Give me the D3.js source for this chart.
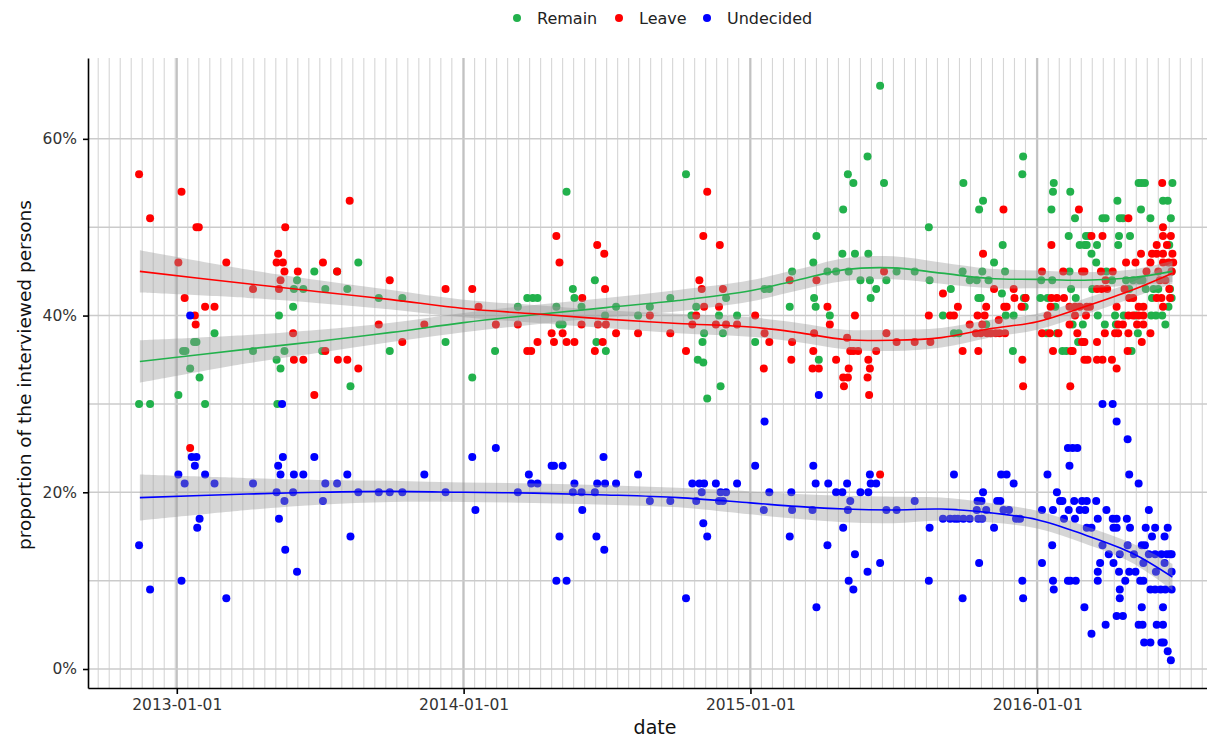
<!DOCTYPE html>
<html>
<head>
<meta charset="utf-8">
<script src="https://cdn.jsdelivr.net/npm/d3@7"></script>
<style>
  body { margin: 0; background: #fff; }
  svg { display: block; font-family: "DejaVu Sans", sans-serif; }
</style>
</head>
<body>
<svg id="chart" width="1207" height="739"></svg>
<script>
// ---- data ----
const seriesNames = ["Remain", "Leave", "Undecided"];
const seriesColors = ["#22b14c", "#ff0000", "#0000ff"];
const yTicks = [0, 20, 40, 60];
const yMinorTicks = [10, 30, 50];
const xTicks = ["2013-01-01", "2014-01-01", "2015-01-01", "2016-01-01"];

const remainPolls = [
  ["2012-11-14",30],["2012-11-28",30],["2013-01-03",31],["2013-01-09",36],["2013-01-12",36],["2013-01-18",34],
  ["2013-01-23",37],["2013-01-26",37],["2013-01-30",33],["2013-02-06",30],["2013-02-18",38],["2013-04-08",36],
  ["2013-05-08",35],["2013-05-09",30],["2013-05-11",40],["2013-05-13",34],["2013-05-18",36],["2013-05-29",41],
  ["2013-05-30",43],["2013-06-03",44],["2013-06-11",43],["2013-06-25",45],["2013-07-05",36],["2013-07-09",43],
  ["2013-07-24",45],["2013-08-06",43],["2013-08-10",32],["2013-08-20",46],["2013-09-15",42],["2013-09-29",36],
  ["2013-10-15",42],["2013-12-09",37],["2014-01-12",33],["2014-02-10",36],["2014-03-11",41],["2014-03-23",42],
  ["2014-03-30",42],["2014-04-05",42],["2014-04-29",41],["2014-05-03",39],["2014-05-07",39],["2014-05-12",54],
  ["2014-05-20",43],["2014-05-22",42],["2014-05-31",41],["2014-06-17",44],["2014-06-19",37],["2014-06-30",40],
  ["2014-07-01",36],["2014-07-14",41],["2014-08-11",40],["2014-08-26",41],["2014-09-21",42],["2014-10-11",56],
  ["2014-10-18",40],["2014-10-24",41],["2014-10-26",35],["2014-11-01",37],["2014-11-02",34.7],["2014-11-03",38],
  ["2014-11-07",30.6],["2014-11-22",40],["2014-11-24",32],["2014-11-27",38],["2014-12-01",42],["2014-12-15",40],
  ["2015-01-07",37],["2015-01-19",43],["2015-01-25",43],["2015-02-20",41],["2015-02-23",45],["2015-03-22",46],
  ["2015-03-23",42],["2015-03-25",41],["2015-03-26",49],["2015-03-29",35],["2015-04-09",45],["2015-04-12",40],
  ["2015-04-20",45],["2015-04-28",47],["2015-04-29",52],["2015-05-05",56],["2015-05-06",45],["2015-05-12",55],
  ["2015-05-14",47],["2015-05-21",44],["2015-05-30",58],["2015-05-31",47],["2015-06-02",44],["2015-06-03",42],
  ["2015-06-10",43],["2015-06-15",66],["2015-06-20",55],["2015-06-23",44],["2015-07-06",45],["2015-07-29",45],
  ["2015-08-16",50],["2015-08-17",44],["2015-09-03",40],["2015-09-13",43],["2015-09-17",38],["2015-09-23",38],
  ["2015-09-28",45],["2015-09-29",55],["2015-10-07",44],["2015-10-16",44],["2015-10-18",42],["2015-10-19",52],
  ["2015-10-21",42],["2015-10-23",45],["2015-10-24",53],["2015-10-28",39],["2015-10-31",44],["2015-11-07",46],
  ["2015-11-17",42.5],["2015-11-18",48],["2015-11-21",45],["2015-11-22",40],["2015-12-01",36],["2015-12-02",40],
  ["2015-12-13",56],["2015-12-14",58],["2015-12-15",42],["2015-12-16",41],["2015-12-17",42],
  ["2016-01-05",42],["2016-01-06",44],["2016-01-13",38],["2016-01-14",42],["2016-01-19",52],["2016-01-20",44],
  ["2016-01-21",54],["2016-01-22",55],["2016-01-24",41],["2016-01-26",38],["2016-02-02",36],["2016-02-07",36],
  ["2016-02-10",49],["2016-02-11",45],["2016-02-12",54],["2016-02-13",43],["2016-02-15",39],["2016-02-18",51],
  ["2016-02-19",42],["2016-02-22",37],["2016-02-24",48],["2016-02-28",39],["2016-02-29",37],["2016-03-01",48],
  ["2016-03-03",49],["2016-03-04",48],["2016-03-07",49],["2016-03-10",47],["2016-03-11",43],["2016-03-16",46],
  ["2016-03-17",48],["2016-03-18",40],["2016-03-24",51],["2016-03-27",39],["2016-03-28",51],["2016-03-29",45],
  ["2016-04-05",44],["2016-04-09",40],["2016-04-10",39],["2016-04-12",53],["2016-04-13",48],["2016-04-14",49],
  ["2016-04-15",51],["2016-04-19",51],["2016-04-20",40],["2016-04-23",44],["2016-04-27",43],["2016-04-28",49],
  ["2016-04-30",36],["2016-05-02",44],["2016-05-05",40],["2016-05-08",38],["2016-05-09",55],["2016-05-10",44],
  ["2016-05-12",52],["2016-05-13",55],["2016-05-14",44],["2016-05-17",55],["2016-05-18",43],["2016-05-24",51],
  ["2016-05-25",40],["2016-05-26",42],["2016-05-28",43],["2016-05-31",40],["2016-06-03",43],["2016-06-08",40],
  ["2016-06-09",53],["2016-06-12",39],["2016-06-15",53],["2016-06-16",41],["2016-06-17",48],["2016-06-18",43],
  ["2016-06-19",51],["2016-06-20",42],["2016-06-20",45],["2016-06-21",55]
];

const leavePolls = [
  ["2012-11-14",56],["2012-11-28",51],["2013-01-03",46],["2013-01-07",54],["2013-01-11",42],["2013-01-18",25],
  ["2013-01-24",40],["2013-01-25",39],["2013-01-26",50],["2013-01-29",50],["2013-02-06",41],["2013-02-18",41],
  ["2013-03-05",46],["2013-04-08",43],["2013-05-08",46],["2013-05-10",47],["2013-05-11",43],["2013-05-13",44],
  ["2013-05-16",46],["2013-05-18",45],["2013-05-19",50],["2013-05-29",38],["2013-05-30",35],["2013-06-04",45],
  ["2013-06-11",35],["2013-06-25",31],["2013-07-06",46],["2013-07-09",36],["2013-07-24",45],["2013-07-25",35],
  ["2013-08-06",35],["2013-08-09",53],["2013-08-20",34],["2013-09-15",39],["2013-09-29",44],["2013-10-15",37],
  ["2013-11-12",39],["2013-12-09",43],["2014-01-12",43],["2014-01-20",41],["2014-02-11",39],["2014-03-11",39],
  ["2014-03-23",36],["2014-03-28",36],["2014-04-05",37],["2014-04-23",38],["2014-04-26",37],["2014-04-29",49],
  ["2014-05-03",46],["2014-05-07",38],["2014-05-12",37],["2014-05-22",37],["2014-05-31",39],["2014-06-01",42],
  ["2014-06-17",36],["2014-06-20",48],["2014-06-21",39],["2014-06-27",37],["2014-06-29",47],["2014-06-30",43],
  ["2014-07-01",39],["2014-07-14",38],["2014-08-11",38],["2014-08-26",40],["2014-09-21",38],["2014-10-11",36],
  ["2014-10-19",39],["2014-10-24",40],["2014-10-28",44],["2014-10-31",43],["2014-11-02",49],["2014-11-03",41],
  ["2014-11-07",54],["2014-11-18",39],["2014-11-22",41],["2014-11-23",48],["2014-11-27",43],["2014-12-01",39],
  ["2014-12-15",39],["2015-01-07",40],["2015-01-18",34],["2015-01-19",38],["2015-01-25",37],["2015-02-20",44],
  ["2015-02-22",35],["2015-02-23",37],["2015-03-21",34],["2015-03-22",36],["2015-03-23",38],["2015-03-26",44],
  ["2015-03-29",34],["2015-04-09",41],["2015-04-12",39],["2015-04-20",35],["2015-04-29",33],["2015-04-30",32],
  ["2015-05-04",37.5],["2015-05-05",33],["2015-05-06",34],["2015-05-08",36],["2015-05-12",36],["2015-05-14",40],
  ["2015-05-18",36],["2015-05-30",33],["2015-05-31",35],["2015-06-01",31],["2015-06-02",34],["2015-06-10",36],
  ["2015-06-15",22],["2015-06-20",45],["2015-06-23",38],["2015-07-06",37],["2015-07-29",37],["2015-08-16",40],
  ["2015-08-18",37],["2015-09-03",42.5],["2015-09-12",40],["2015-09-17",40],["2015-09-22",41],["2015-09-28",36],
  ["2015-10-07",39],["2015-10-15",38],["2015-10-17",40],["2015-10-18",36],["2015-10-21",38],["2015-10-23",39],
  ["2015-10-24",47],["2015-10-26",40],["2015-10-28",41],["2015-10-29",38],["2015-11-03",38],["2015-11-07",43],
  ["2015-11-09",38],["2015-11-13",39.5],["2015-11-14",38],["2015-11-19",52],["2015-11-20",41],["2015-11-21",38],
  ["2015-11-23",41],["2015-12-02",43],["2015-12-03",42],["2015-12-12",41],["2015-12-13",35],["2015-12-14",32],
  ["2015-12-17",42],
  ["2016-01-07",45],["2016-01-07",38],["2016-01-14",40],["2016-01-17",38],["2016-01-18",41],["2016-01-19",48],
  ["2016-01-19",42],["2016-01-21",36],["2016-01-26",42],["2016-01-28",38],["2016-02-03",45],["2016-02-04",42],
  ["2016-02-11",41],["2016-02-11",39],["2016-02-12",32],["2016-02-13",36],["2016-02-15",36],["2016-02-18",41],
  ["2016-02-18",40],["2016-02-21",38],["2016-02-23",52],["2016-02-24",41],["2016-02-27",45],["2016-02-27",37],
  ["2016-03-01",45],["2016-03-01",37],["2016-03-01",35],["2016-03-03",40],["2016-03-04",41],["2016-03-05",35],
  ["2016-03-08",41],["2016-03-10",49],["2016-03-17",43],["2016-03-17",37],["2016-03-17",35],["2016-03-22",45],
  ["2016-03-23",43],["2016-03-24",49],["2016-03-24",35],["2016-03-27",38],["2016-03-28",44],["2016-03-30",43],
  ["2016-04-05",35],["2016-04-06",45],["2016-04-09",38],["2016-04-11",41],["2016-04-11",34],["2016-04-13",39],
  ["2016-04-13",38],["2016-04-19",39],["2016-04-21",43],["2016-04-23",46],["2016-04-25",36],["2016-04-26",51],
  ["2016-04-26",40],["2016-04-26",38],["2016-04-27",42],["2016-05-02",42],["2016-05-02",40],["2016-05-05",46],
  ["2016-05-07",39],["2016-05-09",41],["2016-05-09",40],["2016-05-12",47],["2016-05-13",37],["2016-05-15",41],
  ["2016-05-15",40],["2016-05-15",39],["2016-05-19",45],["2016-05-24",46],["2016-05-24",38],["2016-05-26",47],
  ["2016-06-01",48],["2016-06-01",47],["2016-06-01",42],["2016-06-03",45],["2016-06-05",44],["2016-06-07",42],
  ["2016-06-08",55],["2016-06-09",50],["2016-06-09",49],["2016-06-09",47],["2016-06-09",46],["2016-06-09",41],
  ["2016-06-12",44],["2016-06-14",48],["2016-06-16",46],["2016-06-17",43],["2016-06-18",42],["2016-06-19",49],
  ["2016-06-20",45],["2016-06-21",47],["2016-06-22",46]
];

const undecidedPolls = [
  ["2012-11-14",14],["2012-11-28",9],["2013-01-03",22],["2013-01-07",10],["2013-01-11",21],["2013-01-18",40],
  ["2013-01-20",24],["2013-01-24",23],["2013-01-26",24],["2013-01-27",16],["2013-01-30",17],["2013-02-06",22],
  ["2013-02-18",21],["2013-03-05",8],["2013-04-08",21],["2013-05-08",20],["2013-05-10",23],["2013-05-11",17],
  ["2013-05-13",22],["2013-05-15",30],["2013-05-16",24],["2013-05-18",19],["2013-05-19",13.5],["2013-05-29",20],
  ["2013-05-30",22],["2013-06-03",11],["2013-06-11",22],["2013-06-25",24],["2013-07-06",19],["2013-07-09",21],
  ["2013-07-24",21],["2013-08-06",22],["2013-08-10",15],["2013-08-20",20],["2013-09-15",20],["2013-09-29",20],
  ["2013-10-15",20],["2013-11-12",22],["2013-12-09",20],["2014-01-12",24],["2014-01-16",18],["2014-02-11",25],
  ["2014-03-11",20],["2014-03-25",22],["2014-03-28",21],["2014-04-05",21],["2014-04-23",23],["2014-04-26",23],
  ["2014-04-29",10],["2014-05-03",15],["2014-05-07",23],["2014-05-12",10],["2014-05-20",20],["2014-05-22",21],
  ["2014-05-31",20],["2014-06-01",18],["2014-06-17",20],["2014-06-19",15],["2014-06-20",21],["2014-06-28",24],
  ["2014-06-29",13.5],["2014-06-30",21],["2014-07-14",21],["2014-08-11",22],["2014-08-26",19],["2014-09-21",19],
  ["2014-10-11",8],["2014-10-19",21],["2014-10-24",19],["2014-10-28",21],["2014-10-31",20],["2014-11-02",16.5],
  ["2014-11-03",21],["2014-11-07",15],["2014-11-18",21],["2014-11-22",19],["2014-11-24",20],["2014-11-27",19],
  ["2014-12-01",20],["2014-12-15",21],["2015-01-07",23],["2015-01-18",18],["2015-01-19",28],["2015-01-25",20],
  ["2015-02-20",15],["2015-02-22",20],["2015-02-23",18],["2015-03-21",18],["2015-03-22",23],["2015-03-25",21],
  ["2015-03-26",7],["2015-03-29",31],["2015-04-09",14],["2015-04-10",21],["2015-04-20",20],["2015-04-28",20],
  ["2015-04-29",16],["2015-05-04",21],["2015-05-05",18],["2015-05-06",10],["2015-05-08",19],["2015-05-12",9],
  ["2015-05-14",13],["2015-05-21",20],["2015-05-30",11],["2015-05-31",20],["2015-06-02",22],["2015-06-03",21],
  ["2015-06-10",21],["2015-06-15",12],["2015-06-23",18],["2015-07-06",18],["2015-07-29",19],["2015-08-16",10],
  ["2015-08-17",16],["2015-09-03",17],["2015-09-12",17],["2015-09-17",22],["2015-09-18",17],["2015-09-22",17],
  ["2015-09-28",8],["2015-09-29",17],["2015-10-07",17],["2015-10-16",18],["2015-10-17",19],["2015-10-18",17],
  ["2015-10-19",12],["2015-10-22",19],["2015-10-23",17],["2015-10-24",20],["2015-10-28",18],["2015-11-07",16],
  ["2015-11-11",19],["2015-11-15",19],["2015-11-16",22],["2015-11-19",18],["2015-11-23",22],["2015-11-26",18],
  ["2015-12-02",21],["2015-12-05",17],["2015-12-10",17],["2015-12-13",10],["2015-12-14",8],
  ["2016-01-07",18],["2016-01-07",12],["2016-01-14",22],["2016-01-20",14],["2016-01-21",18],["2016-01-21",10],
  ["2016-01-22",9],["2016-01-26",20],["2016-01-30",19],["2016-02-02",19],["2016-02-04",17],["2016-02-09",25],
  ["2016-02-09",10],["2016-02-10",18],["2016-02-11",23],["2016-02-12",10],["2016-02-15",25],["2016-02-17",19],
  ["2016-02-18",17],["2016-02-19",10],["2016-02-21",25],["2016-02-24",18],["2016-02-27",19],["2016-03-01",7],
  ["2016-03-02",18],["2016-03-04",19],["2016-03-04",16],["2016-03-10",16],["2016-03-10",4],["2016-03-16",19],
  ["2016-03-18",17],["2016-03-18",11],["2016-03-18",10],["2016-03-21",12],["2016-03-24",30],["2016-03-24",14],
  ["2016-03-28",5],["2016-03-29",18],["2016-04-01",13],["2016-04-06",30],["2016-04-06",17],["2016-04-07",16],
  ["2016-04-07",12],["2016-04-11",28],["2016-04-11",17],["2016-04-11",16],["2016-04-11",6],["2016-04-14",11],
  ["2016-04-15",13],["2016-04-15",9],["2016-04-15",8],["2016-04-19",6],["2016-04-22",10],["2016-04-24",17],
  ["2016-04-25",26],["2016-04-25",14],["2016-04-27",22],["2016-04-27",11],["2016-04-28",16],["2016-05-03",13],
  ["2016-05-05",11],["2016-05-09",21],["2016-05-09",5],["2016-05-11",10],["2016-05-13",14],["2016-05-13",7],
  ["2016-05-14",5],["2016-05-15",12],["2016-05-15",10],["2016-05-16",3],["2016-05-17",14],["2016-05-18",16],
  ["2016-05-22",18],["2016-05-22",13],["2016-05-24",9],["2016-05-24",3],["2016-05-26",15],["2016-05-30",16],
  ["2016-05-30",13],["2016-05-30",9],["2016-05-31",11],["2016-06-01",5],["2016-06-06",9],["2016-06-07",13],
  ["2016-06-07",3],["2016-06-09",7],["2016-06-09",5],["2016-06-10",3],["2016-06-11",15],["2016-06-11",12],
  ["2016-06-12",9],["2016-06-14",13],["2016-06-15",16],["2016-06-15",2],["2016-06-18",13],["2016-06-19",1],
  ["2016-06-20",11],["2016-06-20",9],["2016-06-20",13]
];

// smoothed trend (fit) and half-width of its grey band, read at these dates
const fitDates = ["2012-11-15","2013-04-01","2013-07-01","2013-10-01","2014-01-01","2014-04-01","2014-07-01",
  "2014-10-01","2015-01-01","2015-03-01","2015-05-01","2015-07-01","2015-09-01","2015-11-01","2016-01-01",
  "2016-03-01","2016-05-01","2016-06-21"];
const remainFit  = [34.8,36.2,37.1,38.1,39.2,40.1,40.9,41.7,42.8,44.0,45.2,45.4,44.8,44.2,44.1,44.0,44.3,45.0];
const remainBand = [2.4,1.6,1.3,1.1,1.1,1.1,1.1,1.2,1.2,1.2,1.3,1.3,1.2,1.1,1.0,0.9,0.9,1.2];
const leaveFit   = [45.0,43.6,42.7,41.8,40.8,40.2,39.6,39.1,38.7,38.1,37.3,37.2,37.5,38.5,39.3,41.0,42.9,44.8];
const leaveBand  = [2.4,1.6,1.3,1.1,1.0,1.0,1.0,1.1,1.1,1.1,1.1,1.2,1.1,1.0,0.9,0.9,0.9,1.2];
const undecidedFit  = [19.4,19.8,20.0,20.1,20.0,19.9,19.7,19.4,18.8,18.4,18.1,18.0,18.1,17.7,16.9,15.2,13.1,10.4];
const undecidedBand = [2.6,1.8,1.4,1.2,1.1,1.1,1.1,1.1,1.3,1.4,1.5,1.5,1.3,1.1,1.0,1.0,1.1,1.5];

// ---- drawing ----
const W = 1207, H = 739;
const margin = { top: 58, right: 0, bottom: 51, left: 88 };
const parse = d3.utcParse("%Y-%m-%d");
const svg = d3.select("#chart");

const x = d3.scaleUtc()
  .domain([parse("2012-09-10"), parse("2016-08-04")])
  .range([margin.left, W - margin.right]);
const y = d3.scaleLinear()
  .domain([-2.15, 69.15])
  .range([H - margin.bottom, margin.top]);

const grid = svg.append("g");
// minor vertical lines: every two weeks counted from each 1 January
const minorDates = [];
[2012, 2013, 2014, 2015, 2016].forEach(yr => {
  const start = parse(yr + "-01-01");
  for (let k = 0; k <= 26; k++) minorDates.push(d3.utcDay.offset(start, 14 * k));
});
grid.selectAll(".vminor").data(minorDates.filter(d => d >= x.domain()[0] && d <= x.domain()[1]))
  .join("line")
  .attr("x1", d => x(d)).attr("x2", d => x(d))
  .attr("y1", margin.top).attr("y2", H - margin.bottom)
  .attr("stroke", "#d6d6d6").attr("stroke-width", 1.1);
grid.selectAll(".vmajor").data(xTicks.map(parse)).join("line")
  .attr("x1", d => x(d)).attr("x2", d => x(d))
  .attr("y1", margin.top).attr("y2", H - margin.bottom)
  .attr("stroke", "#c2c2c2").attr("stroke-width", 2);
grid.selectAll(".hgrid").data(yTicks.concat(yMinorTicks)).join("line")
  .attr("x1", margin.left).attr("x2", W - margin.right)
  .attr("y1", d => y(d)).attr("y2", d => y(d))
  .attr("stroke", "#cbcbcb").attr("stroke-width", 1.5);

// points
const polls = [remainPolls, leavePolls, undecidedPolls];
polls.forEach((rows, i) => {
  svg.append("g").selectAll("circle").data(rows).join("circle")
    .attr("cx", d => x(parse(d[0])))
    .attr("cy", d => y(d[1]))
    .attr("r", 4)
    .attr("fill", seriesColors[i]);
});

// smoothed lines with confidence bands
const fits = [remainFit, leaveFit, undecidedFit];
const bands = [remainBand, leaveBand, undecidedBand];
const curve = d3.curveCatmullRom.alpha(0.5);
fits.forEach((fit, i) => {
  const rows = fitDates.map((d, j) => ({ date: parse(d), v: fit[j], se: bands[i][j] }));
  svg.append("path").datum(rows)
    .attr("d", d3.area().curve(curve)
      .x(d => x(d.date)).y0(d => y(d.v - d.se)).y1(d => y(d.v + d.se)))
    .attr("fill", "#999999").attr("fill-opacity", 0.4);
});
fits.forEach((fit, i) => {
  const rows = fitDates.map((d, j) => ({ date: parse(d), v: fit[j] }));
  svg.append("path").datum(rows)
    .attr("d", d3.line().curve(curve).x(d => x(d.date)).y(d => y(d.v)))
    .attr("fill", "none").attr("stroke", seriesColors[i]).attr("stroke-width", 1.6);
});

// axes
const xAxis = svg.append("g")
  .attr("transform", `translate(0,${H - margin.bottom})`)
  .call(d3.axisBottom(x).tickValues(xTicks.map(parse))
    .tickFormat(d3.utcFormat("%Y-%m-%d")).tickSize(6).tickPadding(5).tickSizeOuter(0));
const yAxis = svg.append("g")
  .attr("transform", `translate(${margin.left},0)`)
  .call(d3.axisLeft(y).tickValues(yTicks).tickFormat(d => d + "%")
    .tickSize(5).tickPadding(6).tickSizeOuter(0));
[xAxis, yAxis].forEach(g => {
  g.select(".domain").attr("stroke", "#000").attr("stroke-width", 1.6);
  g.selectAll(".tick line").attr("stroke", "#000").attr("stroke-width", 1.6);
  g.selectAll(".tick text").attr("fill", "#333").style("font-size", "15.5px")
    .style("font-family", "'DejaVu Sans', sans-serif");
});

svg.append("text")
  .attr("x", 655).attr("y", 734)
  .attr("text-anchor", "middle")
  .style("font-size", "19px").attr("fill", "#111")
  .text("date");
svg.append("text")
  .attr("transform", "translate(31,375) rotate(-90)")
  .attr("text-anchor", "middle")
  .style("font-size", "18.5px").attr("fill", "#111")
  .text("proportion of the interviewed persons");

// legend
const legendX = [517, 619, 707];
const legend = svg.append("g");
seriesNames.forEach((name, i) => {
  legend.append("circle").attr("cx", legendX[i]).attr("cy", 18).attr("r", 4)
    .attr("fill", seriesColors[i]);
  legend.append("text").attr("x", legendX[i] + 20).attr("y", 24)
    .style("font-size", "16px").attr("fill", "#222").text(name);
});
</script>
</body>
</html>
